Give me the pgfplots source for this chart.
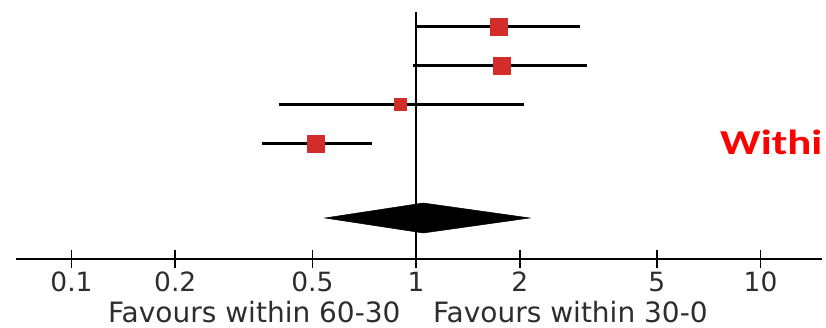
\documentclass[border=0pt]{standalone}
\usepackage{pgfplots}
\pgfplotsset{compat=1.18}
\usepackage{fontspec}
\setmainfont{DejaVu Sans}
\newfontfamily\withifont[FakeStretch=1.28]{Carlito}
\definecolor{sqred}{RGB}{210,45,40}
\definecolor{txt}{RGB}{45,45,45}
\begin{document}
\begin{tikzpicture}
\begin{axis}[
  xmode=log, scale only axis, width=806bp, height=259bp,
  xmin=0.06902, xmax=15.085, ymin=69, ymax=328,
  axis x line=bottom, axis y line=none,
  x axis line style={-, line width=2.4bp, black},
  xtick={0.1,0.2,0.5,1,2,5,10},
  xticklabels={0.1,0.2,0.5,1,2,5,10},
  minor xtick={},
  /pgf/number format/assume math mode=true,
  tick align=center, major tick length=18bp,
  every tick/.style={black, line width=1.6bp},
  xticklabel style={font=\fontsize{26.5bp}{30bp}\selectfont, text=txt, inner sep=0pt, anchor=north, yshift=-4bp},
  clip=false,
]
% line of no effect
\addplot[black, line width=2.6bp] coordinates {(1,69) (1,316)};
% confidence intervals
\addplot[black, line width=2.6bp] coordinates {(1.00,301.3) (2.99,301.3)};
\addplot[black, line width=2.6bp] coordinates {(0.98,262.7) (3.14,262.7)};
\addplot[black, line width=2.6bp] coordinates {(0.40,223.7) (2.06,223.7)};
\addplot[black, line width=2.6bp] coordinates {(0.357,184.7) (0.745,184.7)};
% point estimates
\addplot[only marks, mark=square*, mark size=8.5bp, mark options={fill=sqred, draw=sqred, line width=0.5bp}] coordinates {(1.74,301.3) (1.77,262.7) (0.51,184.7)};
\addplot[only marks, mark=square*, mark size=6bp, mark options={fill=sqred, draw=sqred, line width=0.5bp}] coordinates {(0.90,223.7)};
% pooled estimate
\addplot[fill=black, draw=black, line width=0.5bp] coordinates {(0.544,110) (1.05,125) (2.14,110) (1.05,95)} -- cycle;
\node[anchor=base west, font=\fontsize{28bp}{30bp}\selectfont, text=txt, inner sep=0pt] at (axis cs:0.1276,5.5) {Favours within 60-30};
\node[anchor=base west, font=\fontsize{28bp}{30bp}\selectfont, text=txt, inner sep=0pt] at (axis cs:1.120,5.5) {Favours within 30-0};
\node[anchor=base west, text=red, font=\withifont\bfseries\fontsize{35bp}{40bp}\selectfont, inner sep=0pt] at (axis cs:7.63,173) {Withi};
\coordinate (bl) at (axis cs:0.06200,0);
\coordinate (tr) at (axis cs:15.49,328);
\end{axis}
\pgfresetboundingbox
\path[use as bounding box] (bl) rectangle (tr);
\end{tikzpicture}
\end{document}
